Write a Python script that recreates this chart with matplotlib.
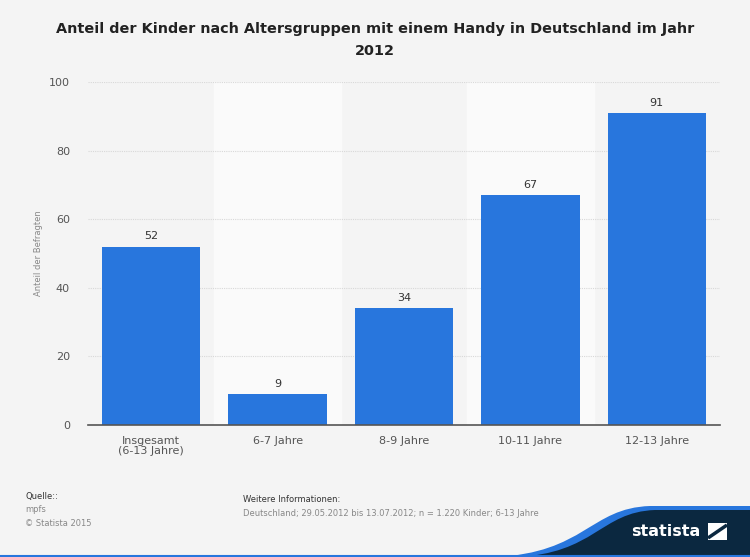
"""
Anteil der Kinder mit Handy nach Altersgruppen (Statista-Stil).
"""

import matplotlib.pyplot as plt
import numpy as np
from matplotlib.patches import PathPatch
from matplotlib.path import Path

categories = ["Insgesamt\n(6-13 Jahre)", "6-7 Jahre", "8-9 Jahre", "10-11 Jahre", "12-13 Jahre"]
values = [52, 9, 34, 67, 91]
yticks = [0, 20, 40, 60, 80, 100]

bg = "#f4f4f4"
bar_color = "#2876dd"
navy = "#0b2840"
text_grey = "#555555"

fig = plt.figure(figsize=(7.5, 5.57), dpi=100, facecolor=bg)
ax = fig.add_axes([88 / 750, 1 - 425 / 557, 632 / 750, 343 / 557])
ax.set_facecolor(bg)

x = np.arange(len(categories))

# Lighter bands behind every second category.
for i in x[1::2]:
    ax.axvspan(i - 0.5, i + 0.5, color="#fafafa", zorder=0)

bars = ax.bar(x, values, width=0.78, color=bar_color, zorder=3)
for b, v in zip(bars, values):
    ax.text(b.get_x() + b.get_width() / 2, v + 1.5, str(v),
            ha="center", va="bottom", fontsize=8, color="#333333")

ax.set_xlim(-0.5, len(categories) - 0.5)
ax.set_ylim(0, 100)
ax.set_yticks(yticks)
ax.set_xticks(x)
ax.set_xticklabels(categories, fontsize=8, color=text_grey, linespacing=1.0)
ax.tick_params(axis="y", labelsize=8, labelcolor=text_grey, length=0, pad=13)
ax.tick_params(axis="x", length=0, pad=8)
ax.yaxis.grid(True, color="#d8d8d8", linestyle=(0, (1, 1)), linewidth=0.8, zorder=1)
for side in ["top", "right", "left"]:
    ax.spines[side].set_visible(False)
ax.spines["bottom"].set_color("#555555")
ax.spines["bottom"].set_linewidth(1.2)
ax.spines["bottom"].set_zorder(4)
ax.set_ylabel("Anteil der Befragten", fontsize=6, color="#888888", labelpad=4)

fig.text(0.5, 1 - 40 / 557, "Anteil der Kinder nach Altersgruppen mit einem Handy in Deutschland im Jahr\n2012",
         ha="center", va="center", fontsize=10.4, fontweight="bold", color="#222222",
         linespacing=1.75)

# Footer texts.
fig.text(25 / 750, 1 - 497 / 557, "Quelle::", fontsize=6, color="#333333", va="center")
fig.text(25 / 750, 1 - 510 / 557, "mpfs", fontsize=6, color="#888888", va="center")
fig.text(25 / 750, 1 - 523 / 557, "© Statista 2015", fontsize=6, color="#888888", va="center")
fig.text(243 / 750, 1 - 499 / 557, "Weitere Informationen:", fontsize=6, color="#333333", va="center")
fig.text(243 / 750, 1 - 513 / 557,
         "Deutschland; 29.05.2012 bis 13.07.2012; n = 1.220 Kinder; 6-13 Jahre",
         fontsize=6, color="#888888", va="center")

# Statista logo shape in the lower right corner.
ov = fig.add_axes([0, 0, 1, 1], zorder=-1)
ov.set_xlim(0, 750)
ov.set_ylim(557, 0)
ov.axis("off")
codes = [Path.MOVETO, Path.CURVE4, Path.CURVE4, Path.CURVE4, Path.LINETO, Path.LINETO,
         Path.LINETO, Path.CLOSEPOLY]
verts = [(495, 557), (585, 553), (590, 508), (650, 506), (750, 506),
         (750, 557), (495, 557), (495, 557)]
ov.add_patch(PathPatch(Path(verts, codes), facecolor=bar_color, edgecolor="none"))
verts2 = [(515, 557), (595, 554), (600, 512), (655, 510), (750, 510),
          (750, 557), (515, 557), (515, 557)]
ov.add_patch(PathPatch(Path(verts2, codes), facecolor=navy, edgecolor="none"))
ov.plot([0, 750], [555.8, 555.8], color=bar_color, linewidth=1.5)
ov.text(666, 532, "statista", fontsize=11.5, fontweight="bold", color="white",
        ha="center", va="center")
ov.add_patch(plt.Polygon([(708, 523), (727, 523), (727, 540), (708, 540)],
                         facecolor="white", edgecolor="none"))
ov.plot([708, 727], [538, 525], color=navy, linewidth=2.5, solid_capstyle="butt")

fig.savefig("out.png", dpi=100, facecolor=bg)
